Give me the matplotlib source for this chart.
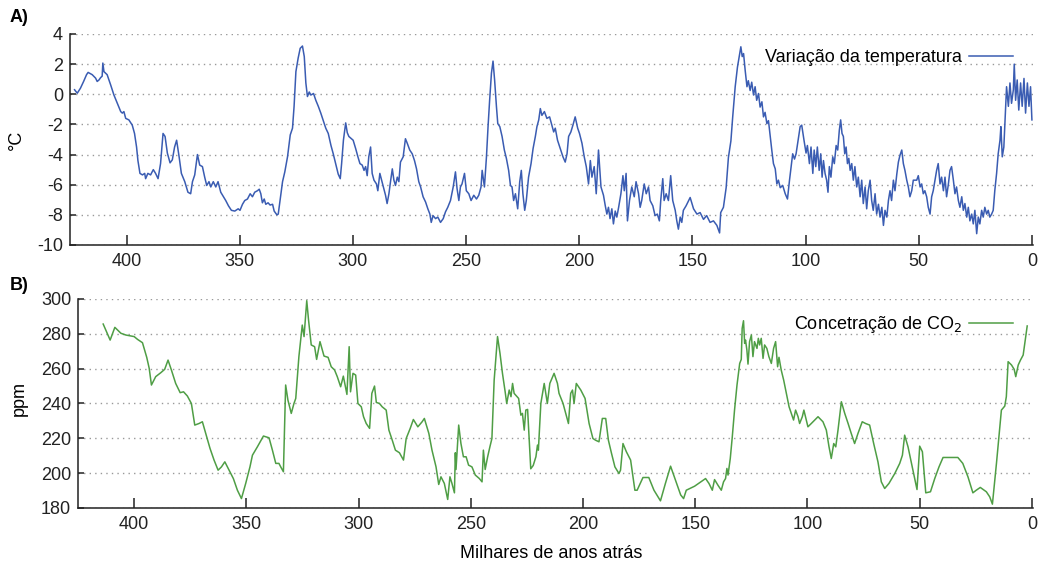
import matplotlib
matplotlib.use('Agg')
import matplotlib.pyplot as plt

plt.rcParams['font.family'] = ['Liberation Sans', 'DejaVu Sans']
plt.rcParams['axes.unicode_minus'] = False

# temperature variation (deg C), thousands of years ago
temp_kyr = [423, 421.8, 420.4, 419, 417.7, 417, 415.2, 413.7, 413, 412.2, 411.5, 410.8, 410.5, 410,
            408.6, 407, 405.6, 404.1, 402.6, 401.9, 401.2, 400.4, 399, 397.5, 396.5, 395.6, 395,
            394.1, 393, 392, 391.6, 390.6, 389.4, 388.2, 387.2, 386.1, 385, 383.9, 383, 382, 380.8,
            379.8, 378.8, 377.9, 376.8, 375.8, 374.3, 372.9, 371.7, 370.9, 369.9, 368.7, 367.7,
            366.5, 365.5, 364.6, 363.6, 362.8, 361.7, 360.6, 359.6, 358.4, 357.2, 356.2, 355,
            353.7, 352.2, 350.7, 349.9, 348.8, 347.8, 346.6, 345.4, 344.4, 343.4, 342.2, 341.4,
            340.7, 340, 339.2, 338.5, 337.5, 336.6, 335.5, 334.8, 333.6, 333, 332.2, 331.1, 330.1,
            328.9, 327.7, 326.7, 326, 325.2, 324.2, 323.3, 322.3, 321.5, 320.8, 320.1, 319.3,
            318.6, 317.4, 316.4, 315.3, 314.2, 313, 312, 310.9, 309.7, 308.7, 307.5, 306.5, 305.6,
            305, 304.2, 303.2, 302.5, 301.8, 300.7, 299.9, 298.8, 297.8, 296.9, 295.9, 295.1,
            294.4, 293.7, 293, 292.2, 291.5, 290.7, 289.6, 289, 288.1, 287.5, 286.6, 285.6, 284.9,
            284.1, 283.4, 282.6, 281.9, 281.2, 280.4, 279.7, 279, 277.8, 276.8, 276, 274.9, 273.8,
            272.8, 271.9, 270.9, 270.1, 269, 267.9, 266.9, 266, 265.4, 264.6, 263.5, 262.5, 261.3,
            260.1, 259.1, 258.1, 256.9, 255.7, 254.7, 254, 253.2, 252.5, 251.8, 250.7, 249.9,
            248.8, 247.8, 246.6, 245.4, 244.4, 243.4, 242.9, 241.9, 241, 240.3, 239.6, 238.8,
            238.1, 237.4, 236.6, 236, 235.1, 234.1, 233.1, 232.2, 231.2, 230.4, 229.7, 229, 228.2,
            227.2, 226.3, 225.6, 224.9, 224.1, 223.4, 222.4, 221.3, 220.4, 219.4, 218.7, 217.9,
            217.2, 216.5, 215.4, 214.3, 213.1, 212.1, 211.3, 210.6, 209.6, 208.4, 207.2, 206.2,
            205.4, 204.7, 203.7, 202.8, 201.8, 200.7, 199.9, 198.8, 197.8, 196.9, 195.9, 195.1,
            194.4, 193.4, 192.5, 191.5, 190.4, 189.3, 188.5, 187.8, 187.1, 186.4, 185.6, 184.9,
            184.1, 183.4, 182.6, 181.6, 180.7, 180.1, 179.3, 178.7, 177.8, 176.8, 175.7, 174.9,
            173.8, 173.1, 172.4, 171.3, 170.4, 169.4, 168.7, 167.5, 166.5, 165.5, 164.6, 164,
            163.1, 162.5, 161.6, 160.6, 159.6, 158.7, 157.6, 156.9, 156.2, 155.4, 154.7, 154,
            152.8, 151.0, 149.5, 148.0, 146.6, 145.1, 143.7, 142.2, 140.7, 139.2, 138.0, 137.5,
            136.3, 135.1, 134.1, 133.0, 132.2, 131.1, 130.1, 129.2, 128.6, 128.0, 127.4, 126.7,
            125.9, 125.3, 124.5, 123.8, 123.0, 122.3, 121.6, 120.8, 120.1, 119.3, 118.6, 117.9,
            117.1, 116.4, 115.6, 114.9, 114.2, 113.4, 112.7, 112.0, 111.2, 110.1, 109.0, 108.0,
            107.1, 106.4, 105.7, 104.9, 104.2, 103.1, 102.4, 101.7, 100.7, 99.8, 99.2, 98.3, 97.6,
            96.8, 96.2, 95.5, 94.8, 94.0, 93.3, 92.7, 92.1, 91.4, 90.7, 90.1, 89.5, 88.8, 88.0,
            87.3, 86.5, 85.8, 85.1, 84.5, 83.9, 83.3, 82.7, 82.1, 81.5, 80.9, 80.3, 79.6, 78.9,
            78.2, 77.4, 76.7, 75.9, 75.2, 74.5, 73.7, 73.0, 72.3, 71.5, 70.8, 70.1, 69.3, 68.6,
            67.8, 67.1, 66.3, 65.6, 64.9, 64.1, 63.4, 62.7, 62.0, 61.2, 60.5, 59.7, 59.0, 58.3,
            57.5, 56.8, 56.1, 55.3, 54.6, 53.9, 53.1, 52.4, 50.9, 50.2, 49.4, 48.7, 48.0, 47.3,
            46.5, 45.8, 45.0, 44.3, 43.6, 42.8, 42.1, 41.4, 40.6, 39.9, 39.1, 38.4, 37.7, 36.9,
            36.2, 35.5, 34.7, 34.0, 33.3, 32.5, 31.8, 31.0, 30.3, 29.6, 28.8, 28.1, 27.4, 26.6,
            25.9, 25.2, 24.4, 23.7, 23.0, 22.2, 21.5, 20.8, 20.0, 19.3, 18.6, 17.8, 17.1, 16.4,
            15.6, 14.9, 14.1, 13.7, 13.1, 12.4, 11.8, 11.2, 10.4, 9.7, 9.0, 8.2, 7.8, 7.2, 6.5,
            5.8, 5.0, 4.3, 3.5, 2.8, 2.0, 1.3, 0.6, 0.0]
temp_c = [0.3, 0.07, 0.4, 0.85, 1.3, 1.45, 1.3, 1.07, 0.85, 0.95, 1.1, 1.2, 2.07, 1.5,
          1.3, 0.6, -0.05, -0.6, -1.15, -1.25, -1.15, -1.6, -1.7, -2.05, -2.6, -3.5, -4.4,
          -5.25, -5.35, -5.25, -5.6, -5.25, -5.35, -5.0, -5.25, -5.6, -4.6, -2.6, -2.8, -3.9, -4.55,
          -4.35, -3.5, -3.05, -4.15, -5.25, -5.8, -6.5, -6.6, -5.8, -5.35, -4.0, -4.7,
          -4.8, -5.5, -6.05, -5.8, -6.15, -5.8, -6.15, -5.8, -6.5, -6.8, -7.05, -7.4,
          -7.7, -7.75, -7.6, -7.7, -7.3, -7.05, -6.95, -6.6, -6.8, -6.5, -6.4, -6.3,
          -6.6, -7.2, -6.95, -7.3, -7.2, -7.35, -7.3, -7.75, -8.0, -7.95, -7.05, -5.8, -5.15,
          -4.15, -2.7, -2.25, -0.8, 1.5, 2.4, 3.05, 3.2, 2.5, 0.75, -0.15, 0.15,
          -0.05, 0.05, -0.4, -0.8, -1.25, -1.8, -2.25, -2.6, -3.4, -3.95, -4.7, -5.3, -5.6,
          -4.6, -3.05, -1.9, -2.55, -2.8, -2.95, -3.05, -3.6, -4.15, -4.6, -4.7, -5.05,
          -4.8, -5.4, -4.15, -3.5, -5.25, -5.7, -5.95, -6.4, -5.25, -5.6, -6.15, -6.7, -7.25,
          -6.6, -5.8, -4.95, -5.7, -6.05, -5.5, -5.8, -4.5, -4.15, -2.95, -3.25, -3.7, -3.95,
          -4.4, -4.95, -5.8, -6.15, -6.8, -7.15, -7.6, -7.95, -8.5, -8.05, -8.25, -8.15, -8.5,
          -8.25, -7.8, -7.5, -7.05, -6.15, -5.15, -6.25, -7.05, -6.15, -5.95, -5.25, -6.4,
          -6.6, -7.05, -6.7, -6.95, -6.7, -6.15, -5.05, -6.15, -4.15, -2.15, -0.4, 1.4,
          2.2, 0.95, -0.8, -1.95, -2.15, -2.8, -3.7, -4.25, -5.05, -6.05, -6.15, -7.05, -6.6,
          -7.6, -5.8, -5.05, -6.6, -7.7, -7.05, -5.5, -4.6, -3.6, -2.8, -2.15, -1.7,
          -0.95, -1.4, -1.15, -1.6, -1.5, -2.05, -2.5, -2.25, -3.05, -3.6, -4.15, -4.5,
          -3.95, -2.8, -2.5, -2.05, -1.5, -2.25, -2.6, -3.25, -4.15, -4.8, -5.95, -4.4,
          -5.5, -4.8, -6.6, -3.7, -6.15, -6.7, -7.4, -7.95, -7.5, -8.25, -7.6, -8.6,
          -7.75, -8.15, -7.5, -6.6, -5.4, -6.4, -5.25, -8.4, -7.05, -6.15, -6.8, -5.8,
          -6.6, -7.5, -7.05, -5.95, -6.6, -6.15, -7.05, -7.4, -8.05, -7.95, -8.4, -7.05,
          -5.6, -7.05, -6.6, -7.05, -5.4, -7.05, -7.7, -8.4, -8.95, -8.15, -8.5, -7.7,
          -7.4, -6.85, -7.6, -7.95, -7.85, -8.3, -8.05, -8.5, -8.4, -8.7, -9.2, -7.85,
          -7.5, -6.2, -4.2, -3.1, -1.5, 0.5, 1.8, 2.6, 3.15, 2.5, 2.7, 1.6,
          0.5, 0.9, 0.25, 0.8, -0.05, 0.5, -0.4, 0.05, -0.85, -0.5, -1.5, -1.2,
          -1.95, -1.75, -2.85, -3.75, -4.6, -4.95, -5.95, -5.7, -6.2, -6.05, -6.6, -6.95,
          -5.7, -4.85, -3.95, -4.3, -3.95, -2.85, -2.15, -2.05, -3.05, -3.9, -3.4, -4.6, -3.5,
          -5.25, -3.7, -4.8, -3.5, -5.05, -3.95, -5.5, -4.4, -5.25, -5.7, -6.5, -4.8, -5.5, -4.15,
          -4.6, -3.4, -3.7, -2.4, -1.7, -2.6, -2.8, -3.95, -3.5, -4.6, -4.25, -5.05, -4.6, -5.7,
          -4.8, -6.15, -5.5, -6.8, -5.7, -7.25, -6.15, -7.6, -6.4, -5.7, -7.05, -7.7, -6.6, -7.95,
          -7.3, -8.15, -7.5, -8.7, -7.7, -8.15, -7.05, -6.4, -7.05, -5.7, -6.4, -5.3, -4.5, -4.05,
          -3.7, -4.6, -5.05, -5.7, -6.15, -6.8, -6.4, -5.7, -5.7, -5.4, -6.15, -5.95, -6.6, -6.4,
          -6.8, -7.5, -7.95, -6.8, -6.4, -5.7, -5.05, -4.6, -5.95, -5.5, -6.4, -5.5, -6.8, -5.95,
          -5.05, -4.8, -5.7, -6.6, -6.15, -7.05, -7.5, -6.8, -7.7, -7.25, -8.15, -7.5, -8.4, -7.95,
          -8.6, -7.7, -9.25, -8.15, -8.6, -7.7, -8.15, -7.5, -7.95, -7.7, -8.15, -7.95, -7.7, -6.4,
          -5.25, -3.95, -3.05, -2.15, -4.15, -3.5, -1.5, 0.5, -0.8, 0.75, -0.6, 0.3, 2.0, -0.4, 0.95,
          -1.05, 0.75, -0.8, 1.05, -1.25, 0.75, -0.8, 0.5, -1.7]

# CO2 concentration (ppm)
co2_kyr = [413.8, 410.7, 408.6, 405.9, 403.7, 400, 398.5, 396.3, 394.4, 393.3, 392.3, 390.4, 388.1,
           386.4, 384.9, 383.4, 381.5, 379.5, 378, 376.3, 374.5, 373, 371.1, 369.6, 368.1, 366.2,
           364.4, 362.6, 361.1, 359.6, 357.7, 355.8, 354, 352.2, 350.3, 348.4, 347.3, 345.1, 342.4,
           339.9, 338.4, 336.9, 335.5, 334.7, 333.5, 332.5, 331.5, 330, 328.8, 328, 326.6, 325.1,
           324.3, 323.1, 322.3, 321.1, 319.6, 318.7, 317.2, 315.4, 313.6, 312.2, 310.7, 309.5,
           308, 306.8, 305.2, 304.2, 303.6, 302.5, 301.3, 300.3, 298.8, 297.8, 296.6, 295.1, 294.1,
           292.9, 292.1, 290.7, 289.5, 287.7, 286.5, 285, 283.6, 281.8, 280, 278.8, 277, 275.6,
           273.6, 271.7, 270.7, 268.7, 267.3, 265.5, 264.3, 263.3, 261.8, 260.3, 259.3, 258.4,
           257.3, 256.9, 256.6, 255.4, 254.4, 253.3, 252.1, 251, 249.5, 248, 246.2, 245, 244.4,
           243.6, 242.5, 241.5, 240.6, 239.6, 238.1, 237, 235.9, 234.7, 234, 232.9, 232.1, 231.4,
           230.7, 228.7, 227.7, 227, 226.2, 225.5, 224.7, 223.3, 222.2, 221, 220.3, 219.9, 218.8,
           217.3, 215.9, 214.8, 212.9, 211.4, 210.7, 208.9, 207.7, 206.5, 205.5, 204.7, 204, 203,
           201, 199.1, 197.3, 195.6, 194.4, 192.9, 191.4, 189.9, 188.7, 187.3, 185.8, 184, 183.3,
           182.2, 180.7, 178.8, 176.9, 175.9, 173.3, 170.7, 168.4, 165.5, 163.3, 161, 158.8,
           156.5, 155.2, 154, 150.3, 145.4, 143.9, 142.4, 141.4, 139.9, 138.4, 137.4, 136.5,
           135.9, 135.4, 134.4, 133.5, 132.5, 131.4, 130.2, 129.5, 129.1, 128.5, 128, 127.6, 127,
           126.5, 125.8, 125, 124.3, 123.6, 122.5, 121.9, 121.3, 120.6, 119.8, 119.1, 118.1,
           117.2, 116.1, 115.1, 114.2, 113.3, 112.7, 111.7, 110.6, 109.4, 108.2, 107.2, 106.2,
           105.3, 104.2, 103.5, 102.3, 101.6, 99.8, 98.3, 95.3, 93.1, 91.6, 90.4, 89.4, 88.3,
           87.4, 86.4, 84.9, 83.4, 81.9, 80.5, 79, 77.5, 75.6, 74.1, 72.3, 70.5, 68.6, 67.1, 65.6,
           63.7, 61.1, 58.9, 57.7, 56.7, 55.2, 53.3, 51.2, 50, 48.8, 47.3, 45.2, 43.3, 41.4, 39.6,
           35.9, 33, 30.8, 28.5, 26.3, 24.8, 23, 20.3, 18.8, 17.6, 15.8, 13.6, 12.1, 11.4, 10.6,
           9.1, 7.9, 7.2, 6.1, 5.1, 3.9, 2.1]
co2_ppm = [285.6, 276.4, 283.7, 280.3, 279.3, 278.4, 276.8, 274.9, 266.5, 260.2, 250.6, 255.4, 257.7,
           259.6, 264.9, 259.2, 251.5, 246.2, 246.7, 244.3, 240, 227.6, 228.5, 229.5, 222.8, 214.2,
           207.5, 201.7, 203.6, 206.5, 201.7, 196.9, 190.2, 185.4, 194.1, 203.6, 210.3, 215.1, 221.3,
           220.3, 213.2, 205.6, 205.6, 203.6, 200.8, 250.6, 242, 234.3, 240, 242.9, 266.9, 285,
           278.4, 299, 287.9, 273.6, 272.6, 265.3, 275.5, 267.2, 266.5, 261.1, 259.2, 255.4,
           249.6, 255.7, 245.2, 272.6, 246.7, 257.3, 256.3, 240, 238.1, 232.4, 228.5, 225.7, 245.8,
           250, 240.6, 240, 238.1, 236.2, 224.7, 218.9, 213.2, 211.7, 207.5, 219.9, 225.7, 230.8,
           226.6, 229.5, 231.4, 222.8, 213.2, 203.6, 193.5, 197.9, 194.1, 184.9, 197.9, 194.1,
           188.7, 211.7, 202.1, 227.6, 217, 209.4, 209.4, 204.6, 203.6, 198.9, 196.9, 195, 213.2,
           202.1, 209.4, 215.1, 219.9, 253.4, 278.4, 268.8, 257.3, 246.7, 240, 247.7, 243.9, 251.5,
           245.8, 242.9, 233.3, 234.3, 224.7, 236.2, 236.6, 202.5, 204.4, 209.4, 216.1, 213.2, 240,
           251.5, 240, 251.5, 257.3, 251.5, 245.8, 240, 234.3, 228.5, 245.8, 247.7, 240, 251.5,
           247.7, 242.9, 228.5, 219.9, 218.9, 218, 231.4, 231.4, 218.9, 211.3, 203.6, 199.8, 201.7,
           217, 212.3, 207.5, 190.2, 190.2, 197.5, 197.5, 190.2, 184.1, 194.1, 204, 196,
           187.5, 185.4, 190.2, 192.5, 196.9, 194.1, 190.2, 196.3, 193.1, 190.2, 195, 196.9,
           202.7, 198.9, 208.4, 220.9, 236.2, 250.6, 263, 265.3, 283.1, 287.5, 274.5, 276.4, 270.7,
           262.6, 275.5, 279.3, 266.9, 275.5, 271.6, 277.4, 273.6, 277.4, 265.9, 273.6, 271.6,
           266.9, 263, 271.6, 275.5, 261.1, 266.5, 259.2, 253.4, 245.8, 238.1, 234.3, 230.5,
           236.2, 232.4, 228.5, 232.4, 236.2, 226.6, 228.5, 232.4, 229.5, 224.7, 215.1, 208.4, 217,
           215.1, 224.7, 241, 234.3, 228.5, 222.8, 217, 222.8, 229.5, 228.5, 227.6, 217, 206.5, 195, 191.2,
           194.1, 199.8, 205.6, 210.3, 221.8, 215.1, 203.6, 190.6, 215.5, 212.3, 188.7, 189.3, 196.9, 203.6, 209,
           209, 209, 205.6, 197.9, 188.7, 190.2, 191.8, 189.3, 186.4, 182.2, 205.6, 236.2, 238.5, 243.9, 264,
           262.1, 259.6, 255.4, 262.1, 264.9, 267.8, 284.5]

x_ticks = [400, 350, 300, 250, 200, 150, 100, 50, 0]
temp_ticks = [-10, -8, -6, -4, -2, 0, 2, 4]
co2_ticks = [180, 200, 220, 240, 260, 280, 300]

blue = '#3a5cb2'
green = '#4f9e45'

fig = plt.figure(figsize=(10.42, 5.70), dpi=100)
axA = fig.add_axes([0.0672, 0.5702, 0.9242, 0.3702])
axB = fig.add_axes([0.0749, 0.1088, 0.9165, 0.3667])

axA.plot(temp_kyr, temp_c, color=blue, lw=1.1, label='Variação da temperatura')
axB.plot(co2_kyr, co2_ppm, color=green, lw=1.1, label='Concetração de CO$_2$')

for ax, yt in ((axA, temp_ticks), (axB, co2_ticks)):
    ax.set_xlim(425, -0.5)
    ax.set_ylim(yt[0], yt[-1])
    ax.set_xticks(x_ticks)
    ax.set_yticks(yt)
    ax.spines['top'].set_visible(False)
    ax.spines['right'].set_visible(False)
    for s in ('left', 'bottom'):
        ax.spines[s].set_color('#222222')
        ax.spines[s].set_linewidth(1.1)
    ax.tick_params(axis='x', direction='in', length=7, width=1.1, labelsize=13, pad=6, colors='#222222')
    ax.tick_params(axis='y', direction='in', length=4, width=1.1, labelsize=13, pad=5, colors='#222222')
    ax.yaxis.grid(True, color='#999999', linestyle=(0, (1, 3)), linewidth=1.0)
    ax.set_axisbelow(True)
    ax.legend(loc='upper right', bbox_to_anchor=(0.99, 0.98), frameon=False, markerfirst=False,
              fontsize=13, handlelength=2.4, handletextpad=0.4, borderaxespad=0.2)

fig.text(10 / 1042, 1 - 18 / 570, 'A)', fontsize=13, fontweight='bold', va='center')
fig.text(10 / 1042, 1 - 285 / 570, 'B)', fontsize=13, fontweight='bold', va='center')
fig.text(16 / 1042, 1 - 140 / 570, '°C', fontsize=13, rotation=90, va='center', ha='center')
fig.text(19 / 1042, 1 - 398 / 570, 'ppm', fontsize=13, rotation=90, va='center', ha='center')
fig.text(551 / 1042, 1 - 553 / 570, 'Milhares de anos atrás', fontsize=13, va='center', ha='center')

fig.savefig('out.png', dpi=100, facecolor='white')
